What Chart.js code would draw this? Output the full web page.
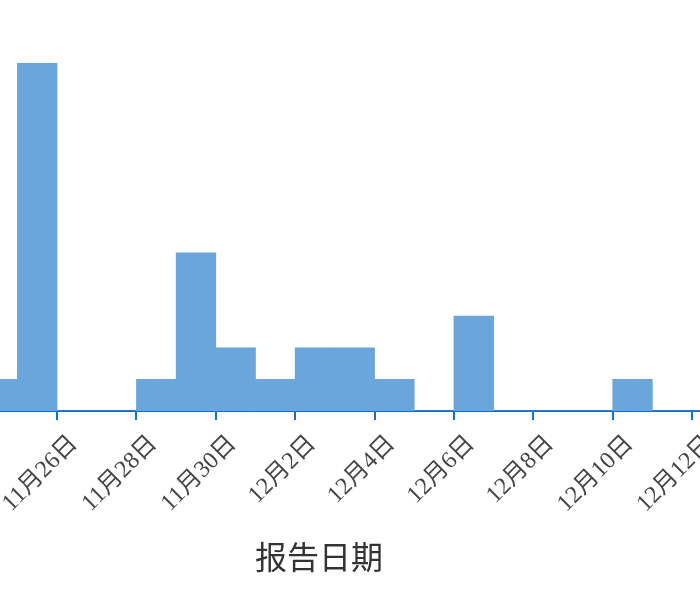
<!DOCTYPE html>
<html>
<head>
<meta charset="utf-8">
<script src="https://cdn.jsdelivr.net/npm/chart.js@4/dist/chart.umd.min.js"></script>
<style>
  html, body { margin: 0; padding: 0; overflow: hidden; background: #fff; }
  /* the plot continues a little past the left edge of the window */
  #wrap { position: absolute; left: -62px; top: 0; width: 762px; height: 600px; }
</style>
</head>
<body>
<div id="wrap"><canvas id="reportChart"></canvas></div>
<script>
// Daily report counts
const dates = ['11月24日', '11月25日', '11月26日', '11月27日', '11月28日', '11月29日', '11月30日',
               '12月1日', '12月2日', '12月3日', '12月4日', '12月5日', '12月6日', '12月7日',
               '12月8日', '12月9日', '12月10日', '12月11日', '12月12日'];
const counts = [1, 11, 0, 0, 1, 5, 2, 1, 2, 2, 1, 0, 3, 0, 0, 0, 1, 0, 0];
const tickDays = [0, 2, 4, 6, 8, 10, 12, 14, 16, 18];   // every second date gets a tick
const axisTitle = '报告日期';

const barColor = '#6aa5db';
const axisColor = '#1570c4';

// each bar covers one whole day, from its date to the next one
const points = counts.map((c, i) => ({ x: i + 0.5, y: c }));

const ctx = document.getElementById('reportChart').getContext('2d');

new Chart(ctx, {
    type: 'bar',
    data: {
        datasets: [{
            data: points,
            backgroundColor: barColor,
            borderWidth: 0,
            barPercentage: 1,
            categoryPercentage: 1
        }]
    },
    options: {
        responsive: true,
        maintainAspectRatio: false,
        animation: false,
        layout: { padding: 0 },
        plugins: {
            legend: { display: false },
            tooltip: { enabled: false }
        },
        scales: {
            x: {
                type: 'linear',
                min: -1,
                max: 18.2,
                offset: false,
                afterBuildTicks: (scale) => {
                    scale.ticks = tickDays.map(v => ({ value: v }));
                },
                afterFit: (scale) => {
                    // keep the plot edge-to-edge and the axis at a fixed height
                    scale.paddingLeft = 0;
                    scale.paddingRight = 0;
                    scale.height = 189;
                },
                grid: {
                    offset: false,
                    drawOnChartArea: false,
                    drawTicks: true,
                    tickLength: 9,
                    color: axisColor,
                    lineWidth: 2
                },
                border: { display: true, color: axisColor, width: 2 },
                ticks: {
                    autoSkip: false,
                    minRotation: 45,
                    maxRotation: 45,
                    labelOffset: 17,
                    padding: 10,
                    color: '#444',
                    font: { family: "'Liberation Serif', 'Noto Sans CJK SC', serif", size: 24 },
                    callback: (v) => dates[v] ?? ''
                },
                title: {
                    display: true,
                    text: axisTitle,
                    color: '#333',
                    font: { family: "'Noto Sans CJK SC', sans-serif", size: 32 },
                    padding: { top: 0, bottom: 24 }
                }
            },
            y: {
                display: false,
                min: 0,
                max: 13
            }
        }
    }
});
</script>
</body>
</html>
